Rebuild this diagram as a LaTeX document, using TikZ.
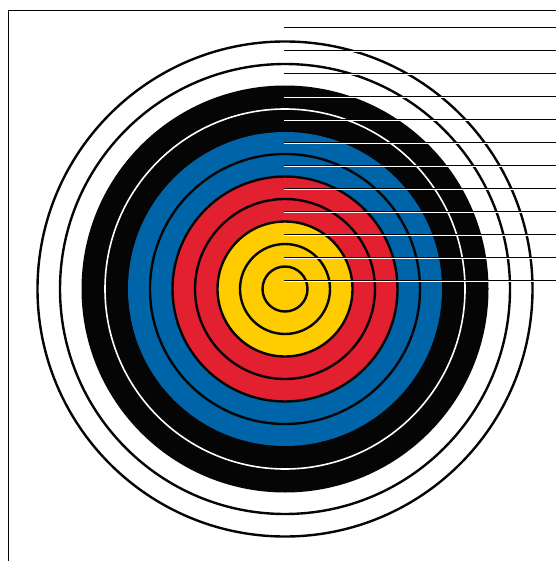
\documentclass[tikz,border=0pt]{standalone}
\usepackage{xcolor}
\definecolor{targetink}{HTML}{050505}
\definecolor{targetblue}{HTML}{0064A8}
\definecolor{targetred}{HTML}{E2202F}
\definecolor{targetgold}{HTML}{FFCC00}
\newcommand{\zonedisk}[2]{\fill[#1] (ctr) circle (#2);}
\newcommand{\ringline}[2]{\draw[#1, line width=2.4pt] (ctr) circle (#2);}
\newcommand{\leaderline}[1]{%
  \draw[targetink, line width=0.8pt] (284,#1) -- (556,#1);
  \draw[white, line width=0.7pt] (284,{#1+1}) -- (556,{#1+1});
}

\begin{document}
\begin{tikzpicture}[x=1pt, y=-1pt]

  \useasboundingbox (0,0) rectangle (556,561);
  \coordinate (ctr) at (285,289);

  % frame
  \draw[targetink, line width=0.9pt] (556,10) -- (8,10) -- (8,561);

  % white zone
  \ringline{targetink}{247.5}
  \ringline{targetink}{225}

  % coloured zones
  \zonedisk{targetink}{203.5}
  \zonedisk{targetblue}{157}
  \zonedisk{targetred}{112.5}
  \zonedisk{targetgold}{67.5}

  \draw[white, line width=1.6pt] (ctr) circle (180);
  \ringline{targetink}{135}
  \ringline{targetink}{112.5}
  \ringline{targetink}{90}
  \ringline{targetink}{67.5}
  \ringline{targetink}{45}
  \ringline{targetink}{22.5}

  % leaders
  \leaderline{27.7}
  \leaderline{50.7}
  \leaderline{73.7}
  \leaderline{96.7}
  \leaderline{119.7}
  \leaderline{142.7}
  \leaderline{165.7}
  \leaderline{188.7}
  \leaderline{211.7}
  \leaderline{234.7}
  \leaderline{257.7}
  \leaderline{280.7}

\end{tikzpicture}
\end{document}
